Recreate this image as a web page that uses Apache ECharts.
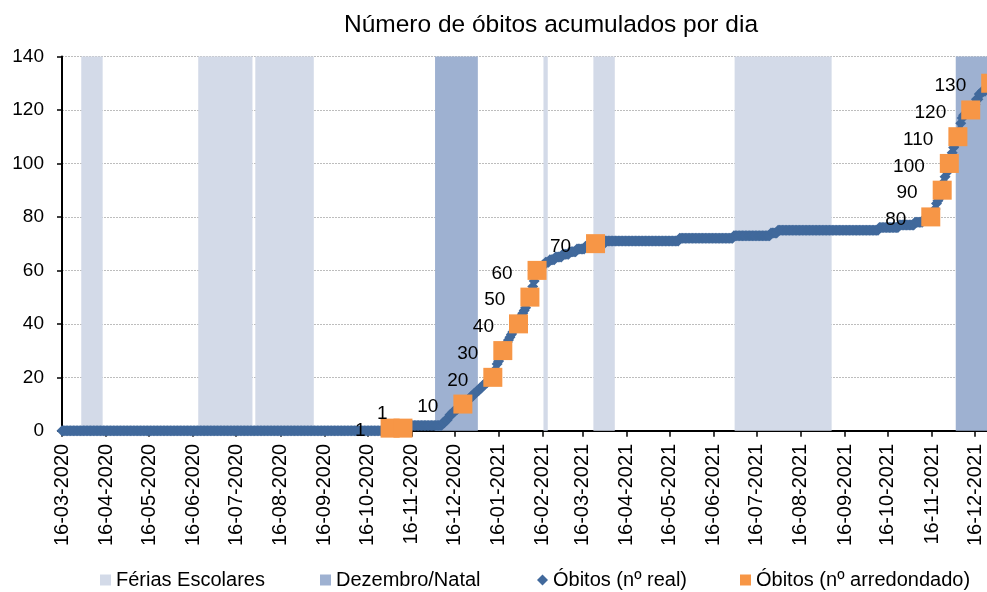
<!DOCTYPE html>
<html><head><meta charset="utf-8">
<script src="https://cdn.jsdelivr.net/npm/echarts@6/dist/echarts.min.js"></script>
<style>html,body{margin:0;padding:0;background:#fff}#c{width:987px;height:592px}</style>
</head><body><div id="c"></div>
<script>
// ---- data ----
const axisStart = '2020-03-16';
const axisEnd = '2021-12-31';

// cumulative deaths (real): value from each date onwards (step function)
const realDates = ['2020-03-16','2020-11-01','2020-11-10','2020-12-08','2020-12-10','2020-12-12','2020-12-13','2020-12-15','2020-12-17','2020-12-19','2020-12-22','2020-12-24','2020-12-26','2020-12-28','2020-12-30','2021-01-01','2021-01-03','2021-01-05','2021-01-07','2021-01-09','2021-01-12','2021-01-13','2021-01-14','2021-01-15','2021-01-16','2021-01-17','2021-01-18','2021-01-19','2021-01-20','2021-01-21','2021-01-22','2021-01-23','2021-01-24','2021-01-25','2021-01-26','2021-01-27','2021-01-28','2021-01-30','2021-01-31','2021-02-01','2021-02-02','2021-02-03','2021-02-04','2021-02-05','2021-02-06','2021-02-07','2021-02-08','2021-02-09','2021-02-10','2021-02-11','2021-02-12','2021-02-14','2021-02-16','2021-02-18','2021-02-21','2021-02-25','2021-03-02','2021-03-07','2021-03-12','2021-03-18','2021-03-25','2021-04-01','2021-05-23','2021-06-30','2021-07-26','2021-07-31','2021-10-10','2021-10-24','2021-11-04','2021-11-10','2021-11-15','2021-11-17','2021-11-18','2021-11-19','2021-11-20','2021-11-21','2021-11-22','2021-11-23','2021-11-24','2021-11-25','2021-11-26','2021-11-28','2021-11-29','2021-11-30','2021-12-01','2021-12-02','2021-12-03','2021-12-04','2021-12-05','2021-12-06','2021-12-07','2021-12-08','2021-12-10','2021-12-13','2021-12-15','2021-12-17','2021-12-19','2021-12-21','2021-12-24','2021-12-26','2021-12-27'];
const realValues = [0,1,2,3,4,5,6,7,8,9,10,11,12,13,14,15,16,17,18,19,20,22,23,25,26,27,29,30,31,32,33,34,35,36,37,38,39,40,42,43,44,45,46,48,49,50,52,54,56,58,60,61,62,63,64,65,66,67,68,69,70,71,72,73,74,75,76,77,78,79,80,82,83,85,86,87,88,90,93,95,97,100,102,104,106,107,109,110,112,115,117,118,119,120,122,124,126,127,128,129,130];

// rounded milestones
const roundDates = ['2020-11-01','2020-11-10','2020-12-22','2021-01-12','2021-01-19','2021-01-30','2021-02-07','2021-02-12','2021-03-25','2021-11-15','2021-11-23','2021-11-28','2021-12-04','2021-12-13','2021-12-27'];
const roundValues = [1,1,10,20,30,40,50,60,70,80,90,100,110,120,130];

// school holidays (inclusive day ranges)
const feriasStarts = ['2020-03-30','2020-06-20','2020-07-30','2021-02-17','2021-03-24','2021-07-01'];
const feriasEnds   = ['2020-04-13','2020-07-27','2020-09-08','2021-02-19','2021-04-07','2021-09-06'];
// December / Christmas (inclusive day ranges)
const natalStarts = ['2020-12-03','2021-12-03'];
const natalEnds   = ['2021-01-01','2021-12-31'];

const yTicks = [0,20,40,60,80,100,120,140];

// ---- helpers ----
const DAY = 86400000;
const t0 = Date.parse(axisStart + 'T00:00:00Z');
const idx = d => Math.round((Date.parse(d + 'T00:00:00Z') - t0) / DAY);
const pad = n => (n < 10 ? '0' : '') + n;
const fmt = i => { const d = new Date(t0 + i * DAY); return pad(d.getUTCDate()) + '-' + pad(d.getUTCMonth() + 1) + '-' + d.getUTCFullYear(); };
const nCats = idx(axisEnd) + 1;
const categories = [];
for (let i = 0; i < nCats; i++) categories.push(fmt(i));
const yTop = yTicks[yTicks.length - 1];

const realSeries = [];
const lastIdx = idx(realDates[realDates.length - 1]);
let k = 0;
for (let i = 0; i < nCats; i++) {
  if (i > lastIdx) { realSeries.push('-'); continue; }
  while (k + 1 < realDates.length && idx(realDates[k + 1]) <= i) k++;
  realSeries.push(realValues[k]);
}

const roundSeries = roundDates.map((d, j) => {
  const item = { value: [idx(d), roundValues[j]] };
  if (j === 1) item.label = { offset: [9, -14] };
  return item;
});

const bandData = (starts, ends) => starts.map((s, j) => [idx(s), Math.min(idx(ends[j]), nCats - 1), yTop]);

const renderBand = (params, api) => {
  const w = api.size([1, 0])[0];
  const p0 = api.coord([api.value(0), api.value(2)]);
  const p1 = api.coord([api.value(1), 0]);
  return { type: 'rect', silent: true,
    shape: { x: p0[0] - w / 2, y: p0[1], width: p1[0] - p0[0] + w, height: p1[1] - p0[1] },
    style: { fill: api.visual('color') } };
};

const isTick = (i, v) => v.slice(0, 3) === '16-';

const FONT = '"Liberation Sans", Arial, sans-serif';
const C_FERIAS = '#D3DAE8', C_NATAL = '#9EB1D1', C_BLUE = '#41699C', C_ORANGE = '#F79646';

const chart = echarts.init(document.getElementById('c'), null, { renderer: 'canvas' });
const legendBase = { top: 570, itemWidth: 11, itemHeight: 11, padding: 0, itemGap: 0,
  textStyle: { fontFamily: FONT, fontSize: 20, color: '#000' } };

chart.setOption({
  animation: false,
  backgroundColor: '#fff',
  textStyle: { fontFamily: FONT },
  title: { text: 'Número de óbitos acumulados por dia', left: 546, top: 8, textAlign: 'center',
    textStyle: { fontFamily: FONT, fontSize: 24.5, fontWeight: 'normal', color: '#000' } },
  grid: { left: 62, top: 56.5, bottom: 161.2, right: -9.4, containLabel: false, outerBoundsMode: 'none' },
  legend: [
    Object.assign({}, legendBase, { left: 100, data: [{ name: 'Férias Escolares', icon: 'rect' }] }),
    Object.assign({}, legendBase, { left: 320, data: [{ name: 'Dezembro/Natal', icon: 'rect' }] }),
    Object.assign({}, legendBase, { left: 537, data: [{ name: 'Óbitos (nº real)', icon: 'diamond' }] }),
    Object.assign({}, legendBase, { left: 740, data: [{ name: 'Óbitos (nº arredondado)', icon: 'rect' }] })
  ],
  xAxis: {
    type: 'category', data: categories, boundaryGap: false,
    axisLine: { show: true, lineStyle: { color: '#000', width: 2 } },
    axisTick: { show: true, interval: isTick, length: 6, lineStyle: { color: '#000', width: 1.5 } },
    axisLabel: { interval: isTick, rotate: 90, margin: 13, fontFamily: FONT, fontSize: 20, color: '#000' },
    splitLine: { show: false }
  },
  yAxis: {
    type: 'value', min: yTicks[0], max: yTop, interval: yTicks[1] - yTicks[0],
    axisLine: { show: true, lineStyle: { color: '#000', width: 2 } },
    axisTick: { show: true, length: 5, lineStyle: { color: '#000', width: 1.5 } },
    axisLabel: { margin: 18, fontFamily: FONT, fontSize: 19, color: '#000' },
    splitLine: { show: true, lineStyle: { color: '#bdbdbd', width: 1, type: [2, 1] } }
  },
  series: [
    { name: 'Férias Escolares', type: 'custom', data: bandData(feriasStarts, feriasEnds), renderItem: renderBand,
      encode: { x: [0, 1], y: 2 }, itemStyle: { color: C_FERIAS }, z: 1, silent: true },
    { name: 'Dezembro/Natal', type: 'custom', data: bandData(natalStarts, natalEnds), renderItem: renderBand,
      encode: { x: [0, 1], y: 2 }, itemStyle: { color: C_NATAL }, z: 1, silent: true },
    { name: 'Óbitos (nº real)', type: 'line', data: realSeries, z: 3,
      symbol: 'diamond', symbolSize: 11, showSymbol: true, showAllSymbol: true,
      itemStyle: { color: C_BLUE }, lineStyle: { color: C_BLUE, width: 5 }, clip: false },
    { name: 'Óbitos (nº arredondado)', type: 'scatter', data: roundSeries, z: 4,
      symbol: 'rect', symbolSize: 19, itemStyle: { color: C_ORANGE, opacity: 1 },
      label: { show: true, position: 'left', distance: 15, offset: [0, 3],
        formatter: p => String(p.value[1]), fontFamily: FONT, fontSize: 19, color: '#000' } }
  ]
});
</script></body></html>
